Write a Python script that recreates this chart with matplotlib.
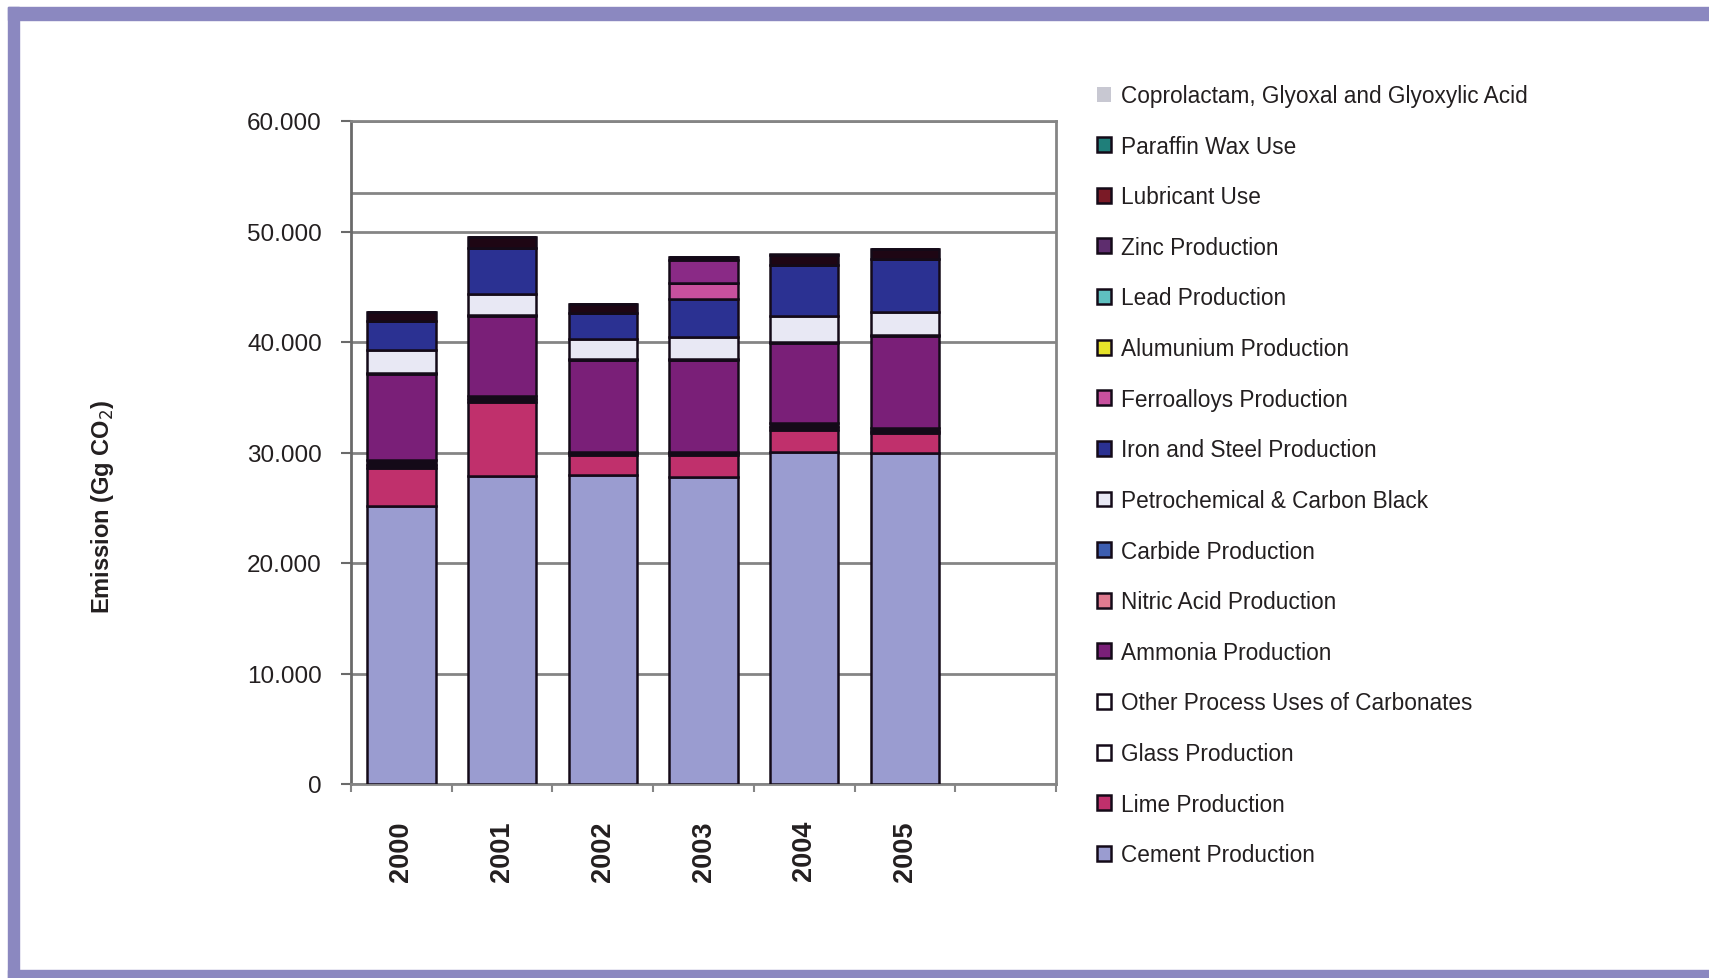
import numpy as np, matplotlib
matplotlib.use('Agg')
import matplotlib.pyplot as plt
from matplotlib.patches import Patch, Rectangle
from matplotlib.ticker import FuncFormatter, MultipleLocator, FixedLocator

FONT = ['Liberation Sans', 'DejaVu Sans']
C_TXT = '#231F20'; C_GRID = '#858585'; C_EDGE = '#140A18'; C_FRAME = '#8B88C0'

years = ['2000', '2001', '2002', '2003', '2004', '2005']

# stacked bottom -> top (legend shows them top -> bottom)
series = [
    ('Cement Production',                [25140, 27860, 27950, 27800, 30070, 29920], '#9A9CD0'),
    ('Lime Production',                  [3420, 6740, 1820, 1970, 1960, 1810],       '#C0306C'),
    ('Glass Production',                 [350, 250, 150, 150, 300, 200],             '#140A18'),
    ('Other Process Uses of Carbonates', [400, 300, 150, 150, 310, 250],             '#140A18'),
    ('Ammonia Production',               [7820, 7210, 8270, 8270, 7300, 8360],       '#7A1F78'),
    ('Nitric Acid Production',           [50, 50, 50, 50, 50, 50],                   '#E07A90'),
    ('Carbide Production',               [50, 50, 50, 50, 50, 50],                   '#3D5DB0'),
    ('Petrochemical & Carbon Black',     [2040, 1900, 1810, 1990, 2270, 2030],       '#E8E8F4'),
    ('Iron and Steel Production',        [2590, 4140, 2360, 3450, 4630, 4840],       '#2B3192'),
    ('Ferroalloys Production',           [0, 0, 0, 1420, 0, 0],                      '#C8509E'),
    ('Alumunium Production',             [0, 0, 0, 0, 0, 0],                         '#E6E22A'),
    ('Lead Production',                  [0, 0, 0, 0, 0, 0],                         '#5FC0C0'),
    ('Zinc Production',                  [0, 0, 0, 2100, 0, 0],                      '#8A2A86'),
    ('Lubricant Use',                    [900, 1000, 820, 290, 950, 900],            '#1E0614'),
    ('Paraffin Wax Use',                 [0, 0, 0, 0, 0, 0],                         '#1F7F7A'),
    ('Coprolactam, Glyoxal and Glyoxylic Acid', [0, 0, 0, 0, 100, 0],                '#C8C8D2'),
]
# legend swatches differ from the (scanned) bar look for a few series
legend_colors = {'Lubricant Use': '#7A1A26', 'Zinc Production': '#5E2D6E',
                 'Glass Production': '#FFFFFF', 'Other Process Uses of Carbonates': '#FFFFFF'}
extra_line = 53500
n_slots = 7

fig = plt.figure(figsize=(17.09, 9.79), dpi=100, facecolor='white')
# purple frame
fig.patches.append(Rectangle((8/1709, 1-21/979), 1, 13/979, transform=fig.transFigure, color=C_FRAME, zorder=0))
fig.patches.append(Rectangle((8/1709, 0), 11/1709, 1-8/979, transform=fig.transFigure, color=C_FRAME, zorder=0))
fig.patches.append(Rectangle((8/1709, 0), 1, 8/979, transform=fig.transFigure, color=C_FRAME, zorder=0))

ax = fig.add_axes([351/1709, 1-785/979, 705/1709, 663/979])
x = np.arange(len(years))
bottom = np.zeros(len(years))
for name, vals, col in series:
    v = np.array(vals, dtype=float)
    ax.bar(x, v, 0.68, bottom=bottom, color=col, edgecolor=C_EDGE, linewidth=1.8, zorder=3)
    bottom += v

ax.set_xlim(-0.5, n_slots - 0.5); ax.set_ylim(0, 60000)
ax.yaxis.set_major_locator(MultipleLocator(10000))
ax.yaxis.set_major_formatter(FuncFormatter(lambda v, _: f'{v:,.0f}'.replace(',', '.')))
ax.grid(axis='y', color=C_GRID, lw=2, zorder=1)
ax.axhline(extra_line, color=C_GRID, lw=2, zorder=1)
for s in ax.spines.values():
    s.set_color(C_GRID); s.set_linewidth(2)
ax.spines['left'].set_color('#6A6A6A')
ax.set_xticks(x)
ax.set_xticklabels(years, rotation=90, fontsize=19.5, fontweight='bold', family=FONT, color=C_TXT)
ax.xaxis.set_minor_locator(FixedLocator(np.arange(n_slots + 1) - 0.5))
ax.tick_params(axis='x', which='major', length=0, pad=26)
ax.tick_params(axis='x', which='minor', length=6, width=1.5, color=C_GRID, direction='out')
ax.tick_params(axis='y', length=7, width=1.5, color='#6A6A6A', pad=14, labelsize=17.5, labelcolor=C_TXT)
for t in ax.get_yticklabels():
    t.set_family(FONT)

fig.text(103/1709, 1-507/979, 'Emission (Gg CO$_2$)', rotation=90, ha='center', va='center',
         fontsize=17, fontweight='bold', family=FONT, color=C_TXT)

handles = []
for name, vals, col in reversed(series):
    c = legend_colors.get(name, col)
    if name.startswith('Coprolactam'):
        handles.append(Patch(facecolor=c, edgecolor='none', label=name))
    else:
        handles.append(Patch(facecolor=c, edgecolor=C_EDGE, linewidth=1.8, label=name))
leg = fig.legend(handles=handles, loc='upper left', bbox_to_anchor=(1097/1709, 1-85/979),
                 frameon=False, borderpad=0, borderaxespad=0, labelspacing=1.22,
                 handlelength=0.64, handleheight=0.64, handletextpad=0.42,
                 prop={'family': FONT, 'size': 16.3})
for t in leg.get_texts():
    t.set_color(C_TXT)

fig.savefig('out.png', dpi=100, facecolor='white')
